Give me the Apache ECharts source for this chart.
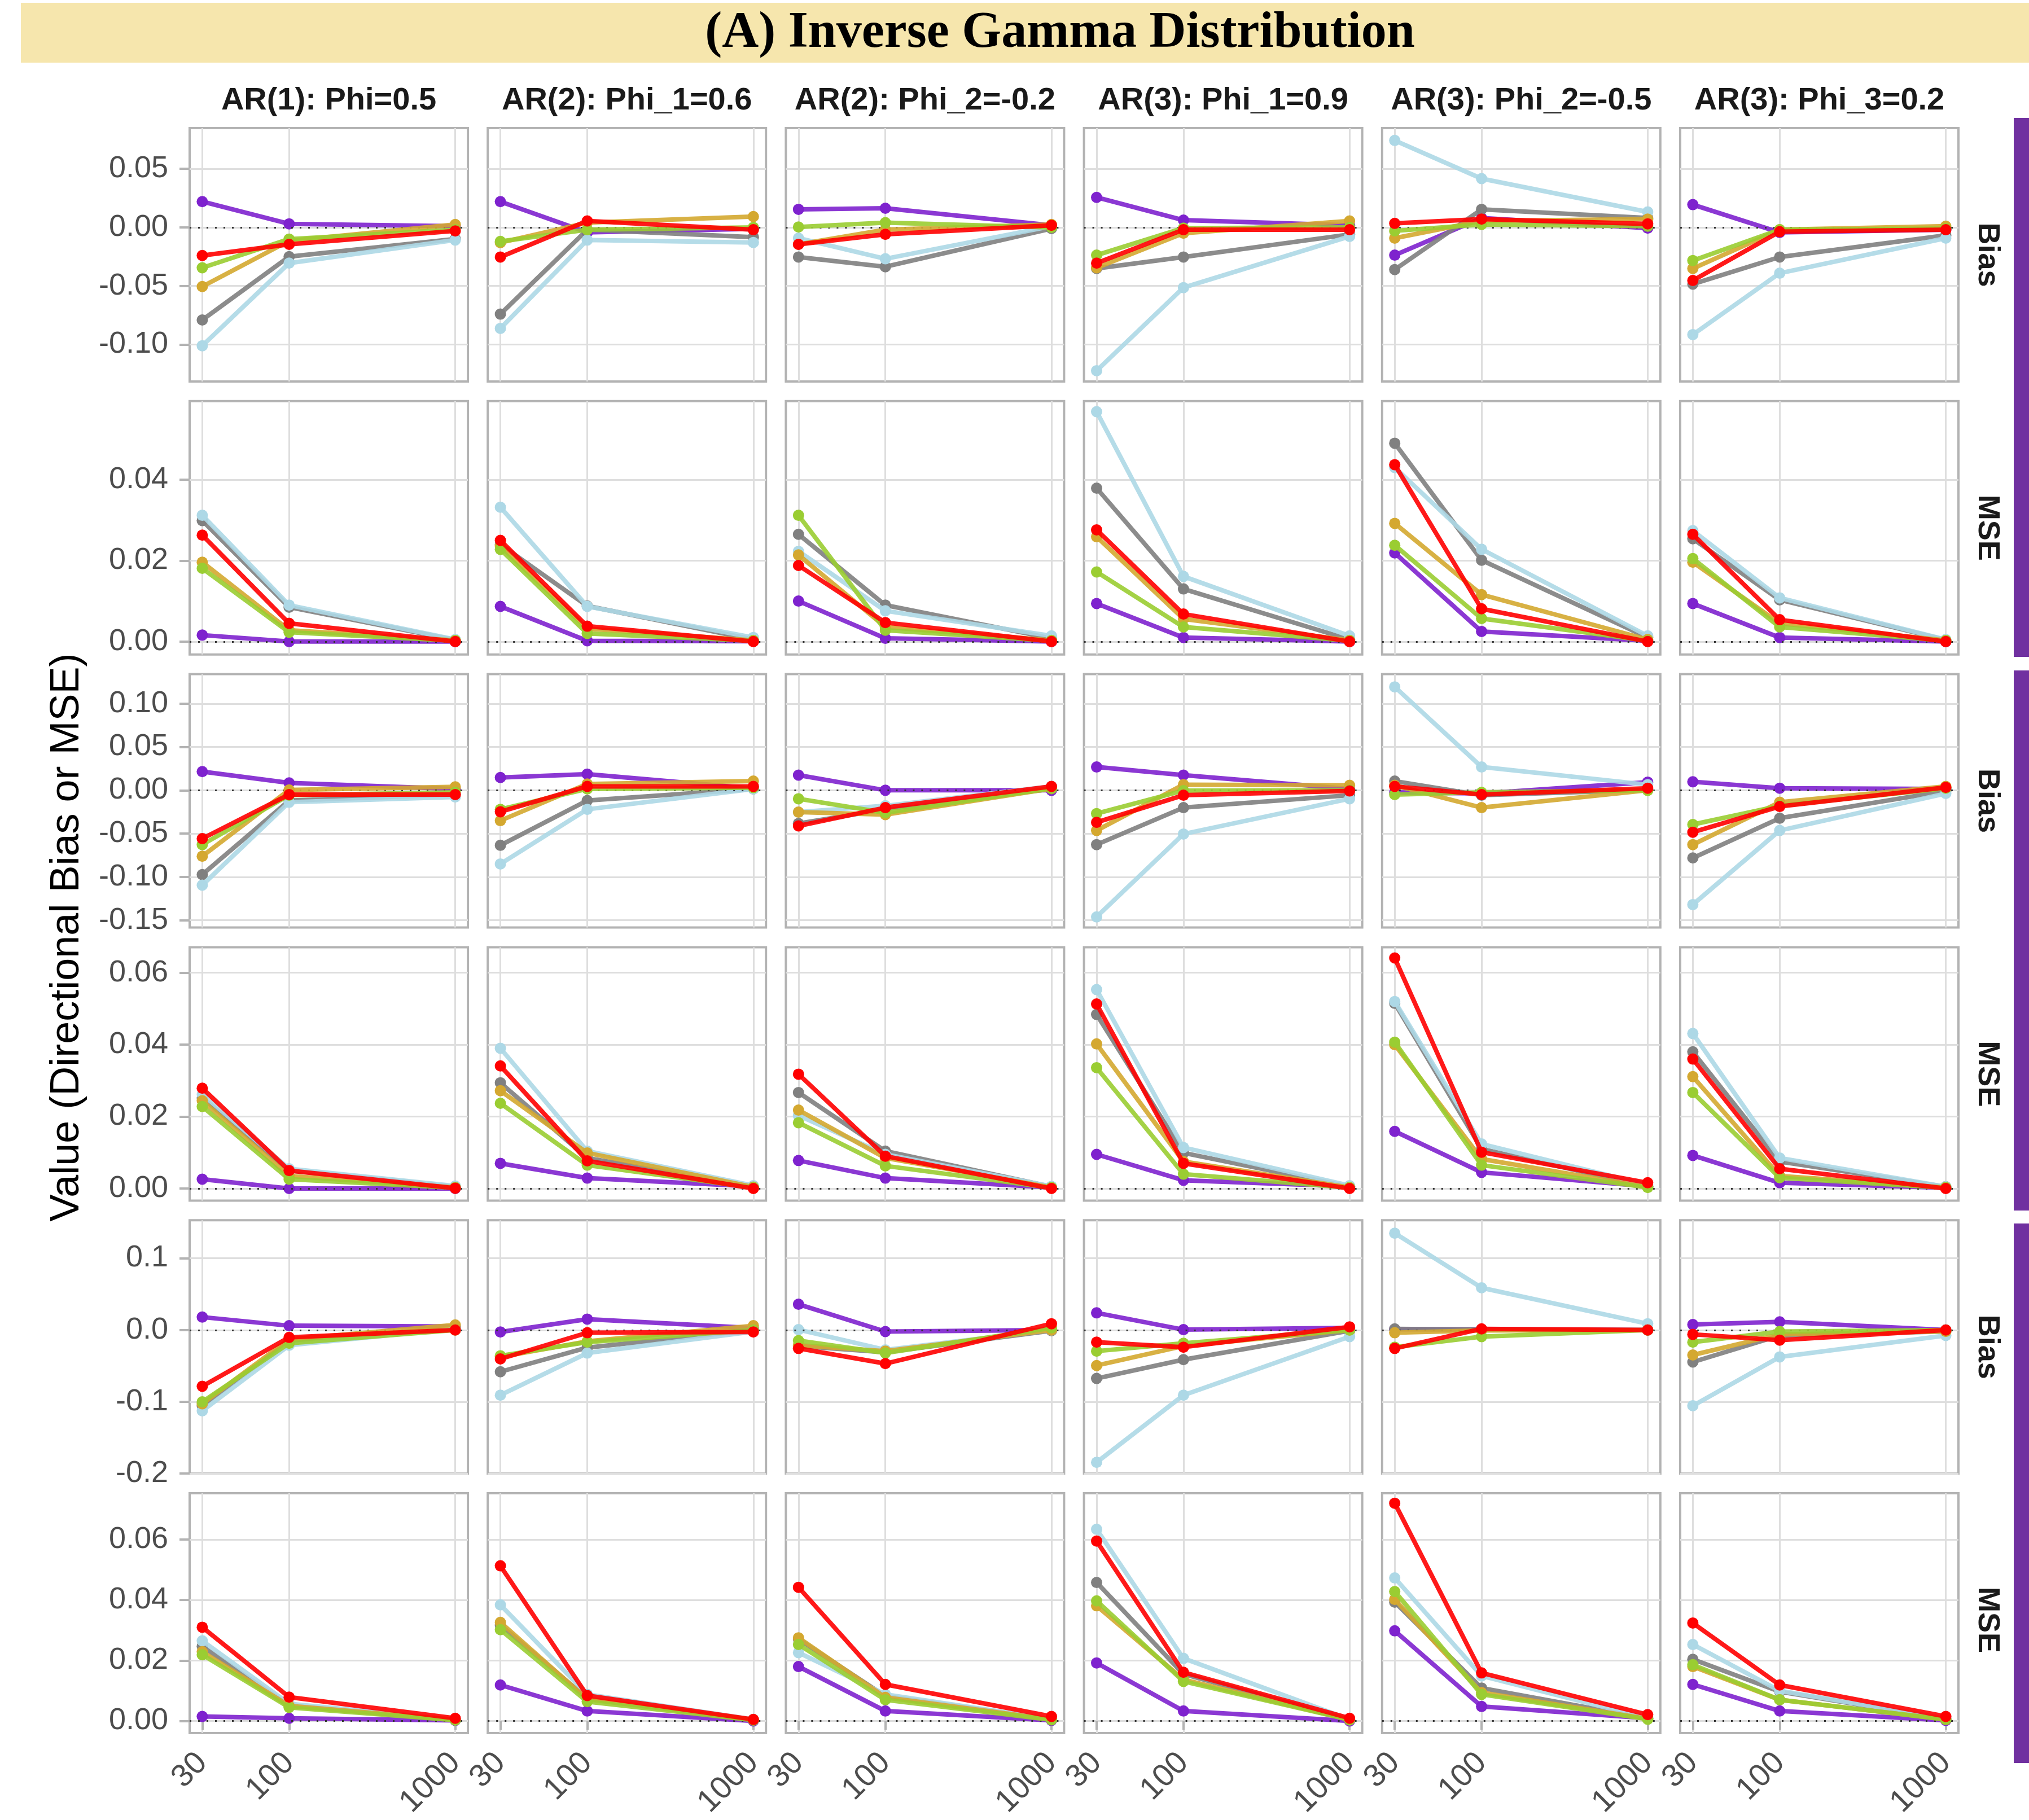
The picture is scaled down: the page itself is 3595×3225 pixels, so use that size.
<!DOCTYPE html>
<html><head><meta charset="utf-8">
<script src="https://cdn.jsdelivr.net/npm/echarts@6/dist/echarts.min.js"></script>
<style>html,body{margin:0;padding:0;background:#fff}#c{width:3595px;height:3225px}</style>
</head><body><div id="c"></div><script>
// ---------------- data ----------------
const sampleSizes = [30, 100, 1000];
const chartTitle = '(A) Inverse Gamma Distribution';
const yAxisTitle = 'Value (Directional Bias or MSE)';
const panelTitles = ['AR(1): Phi=0.5', 'AR(2): Phi_1=0.6', 'AR(2): Phi_2=-0.2', 'AR(3): Phi_1=0.9', 'AR(3): Phi_2=-0.5', 'AR(3): Phi_3=0.2'];
const rowLabels = ['Bias', 'MSE', 'Bias', 'MSE', 'Bias', 'MSE'];
const yTickValues = [
  [-0.10, -0.05, 0, 0.05],
  [0, 0.02, 0.04],
  [-0.15, -0.10, -0.05, 0, 0.05, 0.10],
  [0, 0.02, 0.04, 0.06],
  [-0.2, -0.1, 0, 0.1],
  [0, 0.02, 0.04, 0.06]
];
const yTickDecimals = [2, 2, 2, 2, 1, 2];

// each array: 6 panels (columns) x values at n = 30, 100, 1000
const r1_purple = [[0.022,0.003,0.001],[0.022,-0.0043,-0.0012],[0.0154,0.0163,0.0018],[0.0256,0.0062,0.0018],[-0.0237,0.008,-0.0006],[0.0194,-0.0043,-0.002]];
const r1_grey   = [[-0.079,-0.025,-0.0099],[-0.074,-0.002,-0.0083],[-0.0253,-0.0336,-0.001],[-0.0351,-0.0253,-0.006],[-0.036,0.0154,0.008],[-0.0484,-0.0253,-0.0068]];
const r1_lblue  = [[-0.101,-0.0305,-0.0108],[-0.0862,-0.0108,-0.0129],[-0.0092,-0.0268,0.001],[-0.1223,-0.0514,-0.0077],[0.0742,0.0416,0.0132],[-0.0915,-0.0391,-0.0092]];
const r1_gold   = [[-0.0505,-0.0115,0.0025],[-0.013,0.004,0.0092],[-0.0145,-0.002,0.0025],[-0.0345,-0.005,0.0055],[-0.0092,0.0055,0.007],[-0.0351,-0.002,0.001]];
const r1_green  = [[-0.0345,-0.010,-0.002],[-0.012,-0.002,0.0],[0.0003,0.004,0.0],[-0.0237,-0.0006,0.0],[-0.003,0.0025,0.001],[-0.0283,-0.002,-0.001]];
const r1_red    = [[-0.024,-0.0145,-0.003],[-0.0253,0.0055,-0.002],[-0.0145,-0.0059,0.0018],[-0.0305,-0.002,-0.002],[0.0034,0.0071,0.003],[-0.0453,-0.0037,-0.002]];

const r2_purple = [[0.0016,0.0,0.0],[0.0087,0.0002,0.0001],[0.01,0.0008,0.0],[0.0094,0.001,0.0],[0.0219,0.0025,0.0002],[0.0094,0.001,0.0]];
const r2_grey   = [[0.0299,0.0085,0.0004],[0.024,0.0088,0.0005],[0.0265,0.009,0.0008],[0.0379,0.013,0.0005],[0.049,0.0201,0.001],[0.0254,0.0103,0.0004]];
const r2_lblue  = [[0.0312,0.009,0.0005],[0.0332,0.0087,0.001],[0.0223,0.0076,0.0014],[0.0568,0.0161,0.0014],[0.043,0.0228,0.0014],[0.0274,0.0108,0.0005]];
const r2_gold   = [[0.0196,0.0028,0.0003],[0.0236,0.0032,0.0003],[0.0214,0.0036,0.0003],[0.0259,0.0056,0.0003],[0.0292,0.0116,0.0005],[0.0196,0.0045,0.0003]];
const r2_green  = [[0.0181,0.0023,0.0002],[0.0228,0.002,0.0002],[0.0312,0.0028,0.0002],[0.0172,0.0036,0.0002],[0.0238,0.0057,0.0002],[0.0205,0.0036,0.0002]];
const r2_red    = [[0.0263,0.0045,0.0],[0.025,0.0038,0.0],[0.0188,0.0047,0.0],[0.0276,0.0068,0.0],[0.0437,0.0081,0.0],[0.0265,0.0054,0.0]];

const r3_purple = [[0.0216,0.0085,0.0016],[0.0147,0.0187,0.002],[0.0175,0.0,0.0],[0.0269,0.0175,0.0016],[-0.0024,-0.0037,0.0094],[0.0098,0.0024,0.0016]];
const r3_grey   = [[-0.0973,-0.0118,-0.0049],[-0.0635,-0.0118,0.0016],[-0.0383,-0.022,0.0016],[-0.0627,-0.02,-0.0057],[0.0106,-0.0057,0.0004],[-0.0781,-0.0322,-0.0008]];
const r3_lblue  = [[-0.1095,-0.0138,-0.0077],[-0.085,-0.022,0.0016],[-0.0252,-0.0179,0.0045],[-0.1461,-0.0505,-0.0098],[0.1193,0.0269,0.0065],[-0.1319,-0.0464,-0.0037]];
const r3_gold   = [[-0.0761,0.0004,0.004],[-0.035,0.0073,0.0106],[-0.0252,-0.0281,0.002],[-0.0464,0.0065,0.0057],[0.0057,-0.02,0.0],[-0.0627,-0.0138,0.0045]];
const r3_green  = [[-0.0627,-0.0057,-0.0024],[-0.022,0.0016,0.003],[-0.0098,-0.026,0.0024],[-0.0269,-0.0004,0.0],[-0.0049,-0.0024,0.0],[-0.0395,-0.0179,0.0024]];
const r3_red    = [[-0.0558,-0.0049,-0.0049],[-0.0248,0.0045,0.0045],[-0.0411,-0.02,0.0045],[-0.037,-0.0057,-0.0008],[0.0045,-0.0049,0.0024],[-0.0484,-0.0187,0.0033]];

const r4_purple = [[0.0026,0.0,0.0],[0.007,0.0029,0.0006],[0.0078,0.0029,0.0003],[0.0095,0.0023,0.0006],[0.0159,0.0045,0.0006],[0.0092,0.0016,0.0002]];
const r4_grey   = [[0.0252,0.005,0.0005],[0.0294,0.0085,0.0005],[0.0267,0.0104,0.0005],[0.0484,0.0099,0.0005],[0.0515,0.011,0.0006],[0.038,0.0075,0.0005]];
const r4_lblue  = [[0.0262,0.0055,0.0007],[0.039,0.0104,0.0008],[0.0203,0.0095,0.0006],[0.0553,0.0114,0.0008],[0.052,0.0124,0.001],[0.0431,0.0085,0.0005]];
const r4_gold   = [[0.0244,0.0035,0.0003],[0.0272,0.0099,0.0004],[0.0218,0.0085,0.0003],[0.0402,0.0075,0.0003],[0.040,0.0082,0.0004],[0.0311,0.0035,0.0003]];
const r4_green  = [[0.0228,0.0026,0.0002],[0.0237,0.0065,0.0002],[0.0183,0.0063,0.0002],[0.0336,0.004,0.0002],[0.0407,0.0065,0.0003],[0.0267,0.003,0.0002]];
const r4_red    = [[0.0279,0.005,0.0001],[0.0341,0.0077,0.0],[0.0318,0.009,0.0],[0.0513,0.007,0.0],[0.0641,0.0101,0.0016],[0.036,0.0055,0.0]];

const r5_purple = [[0.018,0.006,0.005],[-0.0027,0.0152,0.0027],[0.0359,-0.0022,0.0],[0.0239,0.0005,0.003],[0.001,0.001,0.0],[0.0076,0.0114,0.0]];
const r5_grey   = [[-0.1055,-0.0158,0.003],[-0.0582,-0.0245,0.0],[-0.0223,-0.031,-0.001],[-0.0675,-0.0413,-0.001],[0.0016,0.0005,0.0],[-0.0446,-0.0076,-0.002]];
const r5_lblue  = [[-0.1126,-0.0212,0.002],[-0.0908,-0.0321,-0.0022],[0.0005,-0.0277,0.0],[-0.1844,-0.0908,-0.0092],[0.1349,0.0588,0.0087],[-0.1055,-0.0375,-0.0076]];
const r5_gold   = [[-0.1028,-0.013,0.007],[-0.0375,-0.0158,0.006],[-0.0212,-0.0294,0.0],[-0.0495,-0.0223,0.0],[-0.0038,-0.0005,0.0],[-0.0348,-0.006,-0.002]];
const r5_green  = [[-0.1001,-0.0185,0.0],[-0.0359,-0.0169,0.0],[-0.0147,-0.0321,0.003],[-0.0294,-0.0185,0.0],[-0.0239,-0.0092,0.0],[-0.0169,-0.0022,0.0]];
const r5_red    = [[-0.0784,-0.0103,0.0],[-0.0403,-0.0038,-0.0027],[-0.0256,-0.0468,0.0087],[-0.0169,-0.0239,0.0044],[-0.0256,0.0016,0.0],[-0.006,-0.0141,0.0]];

const r6_purple = [[0.0015,0.0009,0.0002],[0.0119,0.0033,0.0],[0.018,0.0033,0.0002],[0.0192,0.0033,0.0],[0.0298,0.0048,0.0009],[0.0121,0.0033,0.0002]];
const r6_grey   = [[0.0247,0.0051,0.0004],[0.0317,0.0075,0.0004],[0.0271,0.0082,0.0006],[0.0458,0.0155,0.0005],[0.0393,0.0109,0.0008],[0.0204,0.0097,0.0007]];
const r6_lblue  = [[0.0265,0.0057,0.0005],[0.0384,0.0088,0.0005],[0.0226,0.0088,0.0006],[0.0634,0.0207,0.0005],[0.0473,0.0149,0.0009],[0.0253,0.01,0.0008]];
const r6_gold   = [[0.0229,0.005,0.0004],[0.0326,0.0072,0.0004],[0.0275,0.0078,0.0005],[0.0381,0.0137,0.0004],[0.0402,0.0094,0.0007],[0.018,0.007,0.0005]];
const r6_green  = [[0.0219,0.0045,0.0003],[0.0302,0.0064,0.0003],[0.0253,0.007,0.0004],[0.0397,0.0131,0.0004],[0.0428,0.0088,0.0006],[0.0186,0.007,0.0005]];
const r6_red    = [[0.031,0.0079,0.0009],[0.0513,0.0084,0.0005],[0.0442,0.0121,0.0015],[0.0595,0.0161,0.0009],[0.072,0.0159,0.0021],[0.0324,0.0119,0.0015]];

// ---------------- layout / style ----------------
const seriesKeys = ['purple', 'grey', 'lblue', 'gold', 'green', 'red'];
const seriesColors = {purple:'#7E22CE', grey:'#808080', lblue:'#ADD8E6', gold:'#D4A830', green:'#9ACD32', red:'#FF0000'};
const rowsData = [
  {purple:r1_purple, grey:r1_grey, lblue:r1_lblue, gold:r1_gold, green:r1_green, red:r1_red},
  {purple:r2_purple, grey:r2_grey, lblue:r2_lblue, gold:r2_gold, green:r2_green, red:r2_red},
  {purple:r3_purple, grey:r3_grey, lblue:r3_lblue, gold:r3_gold, green:r3_green, red:r3_red},
  {purple:r4_purple, grey:r4_grey, lblue:r4_lblue, gold:r4_gold, green:r4_green, red:r4_red},
  {purple:r5_purple, grey:r5_grey, lblue:r5_lblue, gold:r5_gold, green:r5_green, red:r5_red},
  {purple:r6_purple, grey:r6_grey, lblue:r6_lblue, gold:r6_gold, green:r6_green, red:r6_red}
];
const yRanges = [[-0.1315,0.0847],[-0.0032,0.0594],[-0.1584,0.134],[-0.00335,0.0671],[-0.2001,0.153],[-0.0040,0.0753]];
const xRange = [25.18, 1191.6];

const GL = 336, GW = 493, GSTEP = 528.2;
const GT = 227, GH = 449, RSTEP = 483.8;
const FONT = '"Liberation Sans", Arial, sans-serif';

const grids = [], xAxes = [], yAxes = [], series = [];
let idx = 0;
for (let r = 0; r < 6; r++) {
  for (let c = 0; c < 6; c++) {
    const lastRow = r === 5, firstCol = c === 0;
    grids.push({left: GL + c*GSTEP, top: GT + r*RSTEP, width: GW, height: GH,
      show: true, borderColor: '#B3B3B3', borderWidth: 4, backgroundColor: 'rgba(0,0,0,0)'});
    xAxes.push({type: 'log', logBase: 10, gridIndex: idx, min: xRange[0], max: xRange[1],
      axisLine: {show: false},
      axisTick: {show: lastRow, customValues: sampleSizes, length: 16, lineStyle: {color: '#B3B3B3', width: 4}},
      axisLabel: {show: lastRow, customValues: sampleSizes, rotate: 45, fontSize: 56, color: '#4D4D4D', fontFamily: FONT, margin: 44,
        formatter: v => String(Math.round(v))},
      splitLine: {show: true, lineStyle: {color: '#DEDEDE', width: 3}},
      minorTick: {show: false}, minorSplitLine: {show: false}});
    const dec = yTickDecimals[r];
    yAxes.push({type: 'value', gridIndex: idx, min: yRanges[r][0], max: yRanges[r][1],
      axisLine: {show: false},
      axisTick: {show: firstCol, customValues: yTickValues[r], length: 18, lineStyle: {color: '#B3B3B3', width: 4}},
      axisLabel: {show: firstCol, customValues: yTickValues[r], fontSize: 54, color: '#4D4D4D', fontFamily: FONT, margin: 38,
        formatter: v => Number(v).toFixed(dec)},
      splitLine: {show: true, lineStyle: {color: '#DEDEDE', width: 3}}});
    // zero reference line (dotted)
    series.push({type: 'line', xAxisIndex: idx, yAxisIndex: idx, data: [], silent: true, z: 1,
      markLine: {silent: true, symbol: 'none', label: {show: false}, animation: false,
        lineStyle: {type: [3, 12], color: '#333333', width: 3}, emphasis: {disabled: true},
        data: [{yAxis: 0}]}});
    seriesKeys.forEach((k, si) => {
      const vals = rowsData[r][k][c];
      series.push({type: 'line', name: k, xAxisIndex: idx, yAxisIndex: idx, z: 2 + si,
        data: sampleSizes.map((n, j) => [n, vals[j]]),
        symbol: 'circle', symbolSize: 20, showSymbol: true,
        lineStyle: {width: 8, color: seriesColors[k], opacity: 0.9},
        itemStyle: {color: seriesColors[k]},
        emphasis: {disabled: true}, animation: false});
    });
    idx++;
  }
}

const graphics = [];
graphics.push({type: 'rect', shape: {x: 37, y: 5, width: 3558, height: 106}, style: {fill: '#F6E6AD'}, z: 0});
graphics.push({type: 'text', x: 1878, y: 60, style: {text: chartTitle, font: 'bold 90px "Liberation Serif", serif', fill: '#000',
  textAlign: 'center', textVerticalAlign: 'middle', align: 'center', verticalAlign: 'middle'}});
panelTitles.forEach((t, c) => {
  graphics.push({type: 'text', x: GL + c*GSTEP + GW/2, y: 179, style: {text: t, font: 'bold 56px ' + FONT, fill: '#1A1A1A',
    textAlign: 'center', textVerticalAlign: 'middle', align: 'center', verticalAlign: 'middle'}});
});
rowLabels.forEach((t, r) => {
  graphics.push({type: 'text', x: 3521, y: GT + r*RSTEP + GH/2, rotation: -Math.PI/2,
    style: {text: t, font: 'bold 54px ' + FONT, fill: '#1A1A1A',
    textAlign: 'center', textVerticalAlign: 'middle', align: 'center', verticalAlign: 'middle'}});
});
graphics.push({type: 'text', x: 119, y: 1661, rotation: Math.PI/2,
  style: {text: yAxisTitle, font: '72px ' + FONT, fill: '#000',
  textAlign: 'center', textVerticalAlign: 'middle', align: 'center', verticalAlign: 'middle'}});
[[209, 1164], [1188, 2145], [2168, 3124]].forEach(b => {
  graphics.push({type: 'rect', shape: {x: 3568, y: b[0], width: 27, height: b[1] - b[0]}, style: {fill: '#7030A0'}});
});

const chart = echarts.init(document.getElementById('c'), null, {renderer: 'canvas', devicePixelRatio: 1});
chart.setOption({
  animation: false,
  backgroundColor: '#ffffff',
  grid: grids, xAxis: xAxes, yAxis: yAxes, series: series,
  graphic: graphics
});
</script></body></html>
